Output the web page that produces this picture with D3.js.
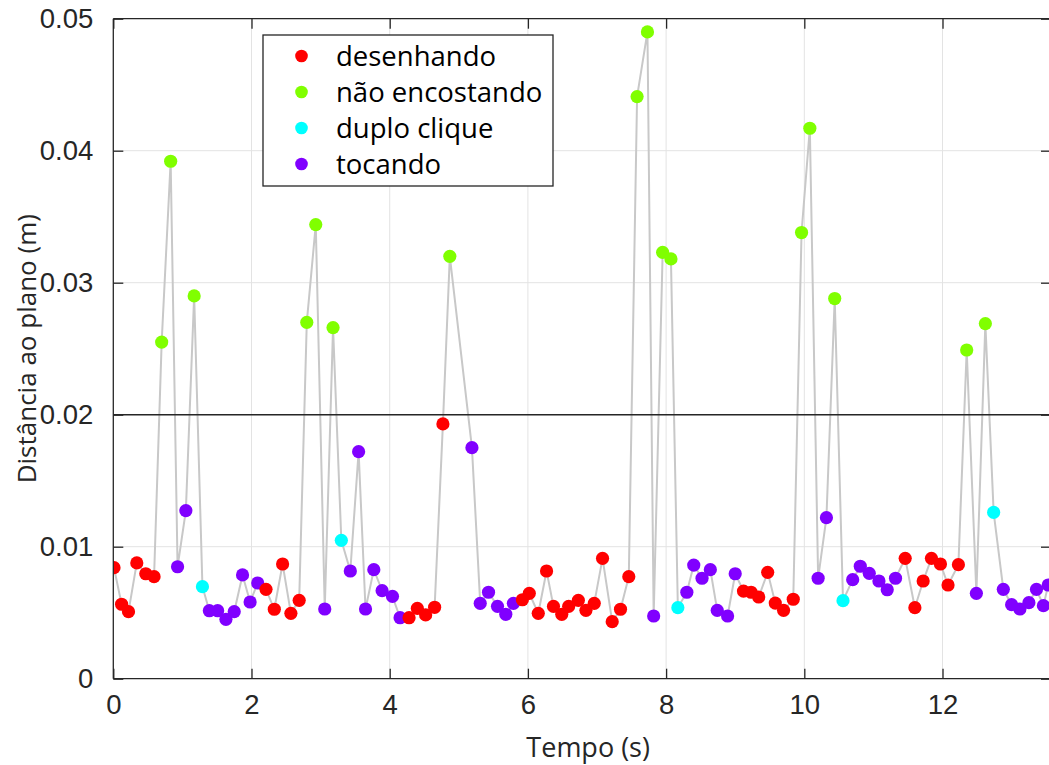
<!DOCTYPE html>
<html>
<head>
<meta charset="utf-8">
<script src="https://cdn.jsdelivr.net/npm/d3@7"></script>
<style>
  html, body { margin: 0; padding: 0; background: #fff; }
  svg { display: block; }
</style>
</head>
<body>
<svg id="chart" width="1049" height="765"></svg>
<script>
// Sample times (s)
const times = [
  0.01, 0.12, 0.22, 0.34, 0.47, 0.59, 0.70, 0.83, 0.93, 1.05,
  1.17, 1.29, 1.39, 1.51, 1.63, 1.75, 1.87, 1.98, 2.09, 2.21,
  2.33, 2.45, 2.57, 2.69, 2.80, 2.93, 3.06, 3.18, 3.30, 3.43,
  3.55, 3.65, 3.77, 3.89, 4.04, 4.15, 4.28, 4.40, 4.52, 4.65,
  4.77, 4.87, 5.19, 5.31, 5.43, 5.56, 5.68, 5.79, 5.92, 6.02,
  6.15, 6.27, 6.37, 6.49, 6.59, 6.73, 6.84, 6.96, 7.08, 7.22,
  7.34, 7.46, 7.58, 7.73, 7.82, 7.95, 8.07, 8.17, 8.30, 8.40,
  8.52, 8.64, 8.74, 8.89, 9.00, 9.12, 9.23, 9.34, 9.47, 9.58,
  9.70, 9.84, 9.96, 10.08, 10.20, 10.32, 10.44, 10.56, 10.70, 10.81,
  10.94, 11.08, 11.20, 11.32, 11.46, 11.60, 11.72, 11.84, 11.97, 12.08,
  12.23, 12.35, 12.49, 12.62, 12.74, 12.88, 13.00, 13.12, 13.25, 13.36,
  13.46, 13.53
];

// Distance to the plane (m)
const distances = [
  0.00841, 0.00564, 0.00508, 0.00877, 0.00795, 0.00773, 0.0255, 0.0392, 0.00848, 0.01273,
  0.0290, 0.00697, 0.00515, 0.00515, 0.00450, 0.00508, 0.00786, 0.00581, 0.00725, 0.00677,
  0.00526, 0.00869, 0.00495, 0.00594, 0.0270, 0.0344, 0.00528, 0.0266, 0.01048, 0.00816,
  0.0172, 0.00528, 0.00826, 0.00667, 0.00624, 0.00462, 0.00462, 0.00533, 0.00483, 0.00541,
  0.0193, 0.0320, 0.0175, 0.00571, 0.00655, 0.00548, 0.00488, 0.00571, 0.00598, 0.00647,
  0.00495, 0.00816, 0.00548, 0.00488, 0.00548, 0.00594, 0.00518, 0.00571, 0.00912, 0.00432,
  0.00526, 0.00773, 0.0441, 0.0490, 0.00475, 0.0323, 0.0318, 0.00538, 0.00655, 0.00861,
  0.00761, 0.00826, 0.00518, 0.00475, 0.00795, 0.00664, 0.00655, 0.00619, 0.00806, 0.00573,
  0.00518, 0.00602, 0.0338, 0.0417, 0.00761, 0.0122, 0.0288, 0.00591, 0.00750, 0.00852,
  0.00798, 0.00740, 0.00674, 0.00761, 0.00912, 0.00538, 0.00740, 0.00912, 0.00869, 0.00710,
  0.00864, 0.0249, 0.00647, 0.0269, 0.0126, 0.00677, 0.00561, 0.00528, 0.00576, 0.00677,
  0.00553, 0.00710
];

// Pen state per sample: 0 desenhando, 1 não encostando, 2 duplo clique, 3 tocando
const states = [
  0, 0, 0, 0, 0, 0, 1, 1, 3, 3,
  1, 2, 3, 3, 3, 3, 3, 3, 3, 0,
  0, 0, 0, 0, 1, 1, 3, 1, 2, 3,
  3, 3, 3, 3, 3, 3, 0, 0, 0, 0,
  0, 1, 3, 3, 3, 3, 3, 3, 0, 0,
  0, 0, 0, 0, 0, 0, 0, 0, 0, 0,
  0, 0, 1, 1, 3, 1, 1, 2, 3, 3,
  3, 3, 3, 3, 3, 0, 0, 0, 0, 0,
  0, 0, 1, 1, 3, 3, 1, 2, 3, 3,
  3, 3, 3, 3, 0, 0, 0, 0, 0, 0,
  0, 1, 3, 1, 2, 3, 3, 3, 3, 3,
  3, 3
];

const stateNames = ["desenhando", "não encostando", "duplo clique", "tocando"];
const stateColors = ["#ff0000", "#80ff00", "#00ffff", "#8000ff"];

const xTicks = [0, 2, 4, 6, 8, 10, 12];
const yTicks = [0, 0.01, 0.02, 0.03, 0.04, 0.05];
const xMax = 13.57;
const threshold = 0.02;

const data = times.map((t, i) => ({ t, d: distances[i], s: states[i] }));

const plot = { left: 113.3, right: 1051, top: 18.7, bottom: 678.7 };
const svg = d3.select("#chart");
const axisColor = "#262626";
const tickFont = "'Liberation Sans', Arial, sans-serif";
const labelFont = "'Open Sans', 'Noto Sans', sans-serif";

const x = d3.scaleLinear().domain([0, xMax]).range([plot.left, plot.right]);
const y = d3.scaleLinear().domain([0, 0.05]).range([plot.bottom, plot.top]);

svg.append("defs").append("clipPath").attr("id", "plotClip")
  .append("rect")
  .attr("x", plot.left).attr("y", plot.top)
  .attr("width", plot.right - plot.left).attr("height", plot.bottom - plot.top);

// Grid
const grid = svg.append("g").attr("stroke", "#e3e3e3").attr("stroke-width", 1);
xTicks.filter(v => v > 0).forEach(v => {
  grid.append("line").attr("x1", x(v)).attr("x2", x(v))
    .attr("y1", plot.top).attr("y2", plot.bottom);
});
yTicks.filter(v => v > 0 && v < 0.05).forEach(v => {
  grid.append("line").attr("x1", plot.left).attr("x2", plot.right)
    .attr("y1", y(v)).attr("y2", y(v));
});

const inner = svg.append("g").attr("clip-path", "url(#plotClip)");

// Connecting line
inner.append("path")
  .datum(data)
  .attr("fill", "none")
  .attr("stroke", "#c8c8c8")
  .attr("stroke-width", 2)
  .attr("d", d3.line().x(p => x(p.t)).y(p => y(p.d)));

// Threshold line
inner.append("line")
  .attr("x1", plot.left).attr("x2", plot.right)
  .attr("y1", y(threshold)).attr("y2", y(threshold))
  .attr("stroke", axisColor).attr("stroke-width", 1.5);

// Markers
inner.selectAll("circle.pt")
  .data(data)
  .join("circle")
  .attr("class", "pt")
  .attr("cx", p => x(p.t))
  .attr("cy", p => y(p.d))
  .attr("r", 6.6)
  .attr("fill", p => stateColors[p.s]);

// Axes (box with inward ticks)
const bottomAxis = d3.axisBottom(x).tickValues(xTicks).tickSize(-10).tickPadding(16)
  .tickFormat(d3.format("d"));
const topAxis = d3.axisTop(x).tickValues(xTicks).tickSize(-10).tickFormat("");
const leftAxis = d3.axisLeft(y).tickValues(yTicks).tickSize(-10).tickPadding(20)
  .tickFormat(v => v === 0 ? "0" : d3.format(".2f")(v));
const rightAxis = d3.axisRight(y).tickValues(yTicks).tickSize(-10).tickFormat("");

function styleAxis(g) {
  g.select(".domain").attr("stroke", axisColor).attr("stroke-width", 1.3);
  g.selectAll(".tick line").attr("stroke", axisColor).attr("stroke-width", 1.3);
  g.selectAll(".tick text").attr("fill", axisColor)
    .attr("font-family", tickFont).attr("font-size", 27.5);
}

svg.append("g").attr("transform", `translate(0,${plot.bottom})`).call(bottomAxis).call(styleAxis)
  .call(g => g.select(".domain").attr("d", `M${plot.left},0H${plot.right}`));
svg.append("g").attr("transform", `translate(0,${plot.top})`).call(topAxis).call(styleAxis)
  .call(g => g.select(".domain").attr("d", `M${plot.left},0H${plot.right}`));
svg.append("g").attr("transform", `translate(${plot.left},0)`).call(leftAxis).call(styleAxis)
  .call(g => g.select(".domain").attr("d", `M0,${plot.bottom}V${plot.top}`));
svg.append("g").attr("transform", `translate(${plot.right},0)`).call(rightAxis).call(styleAxis)
  .call(g => g.select(".domain").attr("d", `M0,${plot.bottom}V${plot.top}`));

// Axis titles
svg.append("text")
  .attr("x", (plot.left + plot.right) / 2 + 6)
  .attr("y", 757)
  .attr("text-anchor", "middle")
  .attr("font-family", labelFont).attr("font-size", 27)
  .attr("fill", axisColor)
  .text("Tempo (s)");

svg.append("text")
  .attr("transform", `translate(36,${(plot.top + plot.bottom) / 2}) rotate(-90)`)
  .attr("text-anchor", "middle")
  .attr("font-family", labelFont).attr("font-size", 26)
  .attr("fill", axisColor)
  .text("Distância ao plano (m)");

// Legend
const legend = svg.append("g").attr("transform", "translate(263,35)");
legend.append("rect")
  .attr("x", 0).attr("y", 0).attr("width", 290).attr("height", 151)
  .attr("fill", "#fff").attr("stroke", axisColor).attr("stroke-width", 1.3);
const rows = legend.selectAll("g.row")
  .data(stateNames)
  .join("g")
  .attr("class", "row")
  .attr("transform", (d, i) => `translate(0,${21 + i * 36})`);
rows.append("circle").attr("cx", 38.5).attr("cy", 0).attr("r", 6.3)
  .attr("fill", (d, i) => stateColors[i]);
rows.append("text").attr("x", 73).attr("y", 10)
  .attr("font-family", labelFont).attr("font-size", 27.5)
  .attr("fill", "#000")
  .text(d => d);
</script>
</body>
</html>
